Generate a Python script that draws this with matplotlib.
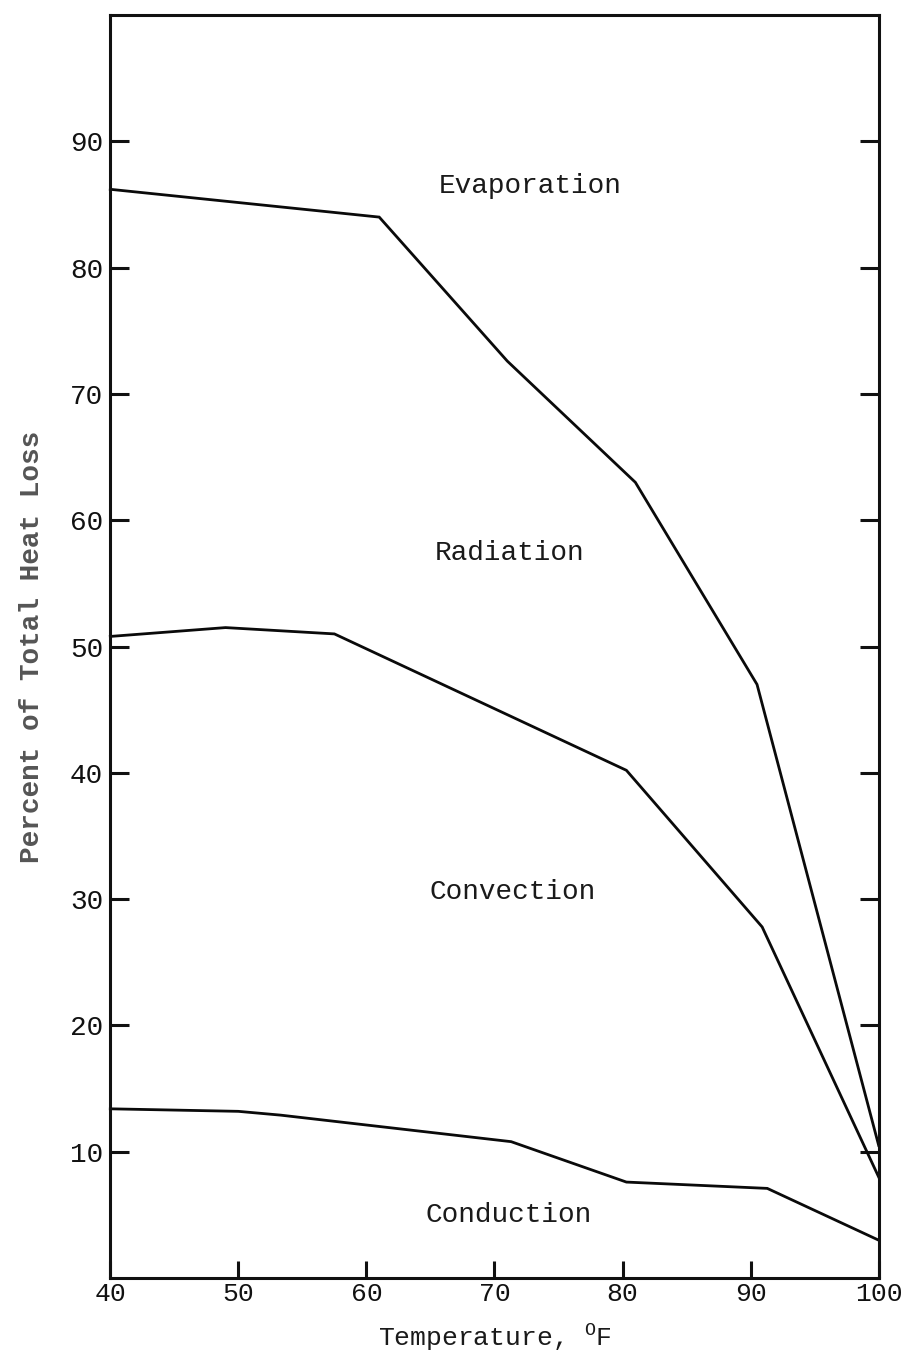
"""Heat loss partition vs. temperature: share of total heat loss carried by
conduction, convection, radiation and evaporation (cumulative boundaries)."""

import matplotlib
matplotlib.use("Agg")
import matplotlib.pyplot as plt

# Boundary between Evaporation (above) and Radiation (below)
evap_temp = [40, 61, 71, 81, 90.5, 100]
evap_pct = [86.2, 84.0, 72.6, 63.0, 47.0, 10.5]

# Boundary between Radiation (above) and Convection (below)
rad_temp = [40, 49, 57.5, 80.3, 90.9, 100]
rad_pct = [50.8, 51.5, 51.0, 40.2, 27.8, 8.0]

# Boundary between Convection (above) and Conduction (below)
conv_temp = [40, 50, 53.3, 71.3, 80.3, 91.3, 100]
conv_pct = [13.4, 13.2, 12.9, 10.8, 7.6, 7.1, 3.0]

region_names = ["Evaporation", "Radiation", "Convection", "Conduction"]
region_temp = [72.8, 71.2, 71.4, 71.1]
region_pct = [86.5, 57.4, 30.6, 5.0]

x_ticks = [40, 50, 60, 70, 80, 90, 100]
y_ticks = [10, 20, 30, 40, 50, 60, 70, 80, 90]

plt.rcParams["font.family"] = ["Liberation Mono", "DejaVu Sans Mono"]
plt.rcParams["mathtext.fontset"] = "custom"
plt.rcParams["mathtext.rm"] = "Liberation Mono"


def main():
    fig = plt.figure(figsize=(9.04, 13.64), dpi=100)
    ax = fig.add_axes([0.122, 0.063, 0.850, 0.926])

    for xs, ys in [(evap_temp, evap_pct), (rad_temp, rad_pct), (conv_temp, conv_pct)]:
        ax.plot(xs, ys, color="#0a0a0a", linewidth=2.0, solid_joinstyle="miter", clip_on=False)

    for name, tx, ty in zip(region_names, region_temp, region_pct):
        ax.text(tx, ty, name, ha="center", va="center", fontsize=20, color="#1a1a1a")

    ax.set_xlim(40, 100)
    ax.set_ylim(0, 100)

    ax.set_xticks(x_ticks)
    ax.set_yticks(y_ticks)
    ax.tick_params(axis="y", direction="in", left=True, right=True, length=14, width=2.2,
                   labelsize=20, pad=5, colors="#111111")
    ax.tick_params(axis="x", direction="in", bottom=True, length=12, width=2.2,
                   labelsize=19, pad=3, colors="#111111")

    for spine in ax.spines.values():
        spine.set_linewidth(2.2)
        spine.set_color("#111111")

    ax.set_xlabel("Temperature, $^{\\mathrm{O}}$F", fontsize=19, labelpad=11, color="#1a1a1a")
    ax.set_ylabel("Percent of Total Heat Loss", fontsize=20, labelpad=18, color="#555555",
                  fontweight="bold")

    fig.savefig("out.png", dpi=100)


if __name__ == "__main__":
    main()
